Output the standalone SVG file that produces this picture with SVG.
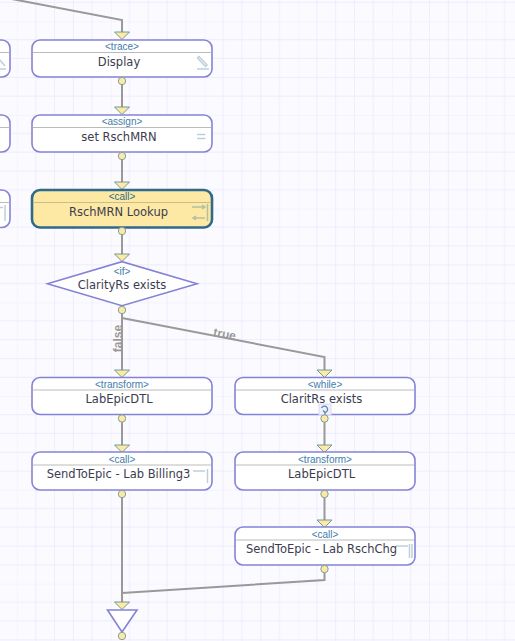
<svg xmlns="http://www.w3.org/2000/svg" width="515" height="641" viewBox="0 0 515 641">
<style>
.box{fill:#fff;stroke:#8583d6;stroke-width:1.6}
.sel{fill:#fde9a4;stroke:#2f6a8a;stroke-width:2.6}
.sep{stroke:#bbb;stroke-width:1}
.sep2{stroke:#ddd;stroke-width:2}
.st{font:10px "Liberation Sans",Arial,sans-serif;fill:#3f7cab;text-anchor:middle}
.nm{font:11.5px "DejaVu Sans",Verdana,sans-serif;fill:#3c3c50;text-anchor:middle}
.ln{fill:none;stroke:#999;stroke-width:2}
.lb{font:bold 12px "Liberation Sans",Arial,sans-serif;fill:#999;text-anchor:middle}
.dot{fill:#fde9a4;stroke:#7f9f9f;stroke-width:1}
.tri{fill:#fde9a4;stroke:#6f9a9a;stroke-width:1}
.ic{fill:none;stroke:#bccfdb;stroke-width:1.5}
.ic2{fill:none;stroke:#b5bfa0;stroke-width:1.5}
</style>
<defs>
<pattern id="grid" width="93.75" height="93.75" patternUnits="userSpaceOnUse" patternTransform="translate(17 21)">
<path d="M0 0V93.75M0 0H93.75" stroke="#f5f4ff" stroke-width="2.4" fill="none"/>
<path d="M18.75 0V93.75M37.5 0V93.75M56.25 0V93.75M75 0V93.75M0 18.75H93.75M0 37.5H93.75M0 56.25H93.75M0 75H93.75" stroke="#eeebfe" stroke-width="1" fill="none"/>
</pattern>
<path id="ar" class="tri" d="M-7.5 0H7.5L0 7.5Z"/>
</defs>
<rect width="515" height="641" fill="#fbfbff"/>
<rect width="515" height="641" fill="url(#grid)"/>
<g id="connectors">
<path class="ln" d="M-4 -4L122 20V33"/>
<path class="ln" d="M122 81V108"/>
<path class="ln" d="M122 156V183"/>
<path class="ln" d="M122 231V255"/>
<path class="ln" d="M122 310V371"/>
<path class="ln" d="M122 318L324.500 357V371"/>
<path class="ln" d="M122 419V445"/>
<path class="ln" d="M324.500 419V445"/>
<path class="ln" d="M324.500 494V520"/>
<path class="ln" d="M122 494V603"/>
<path class="ln" d="M324.500 569V580L122 593"/>
<text class="lb" transform="translate(122 338.500) rotate(-90)">false</text>
<text class="lb" transform="translate(224 338) rotate(10.600)">true</text>
<use href="#ar" x="122" y="32"/>
<use href="#ar" x="122" y="107"/>
<use href="#ar" x="122" y="182"/>
<use href="#ar" x="122" y="254"/>
<use href="#ar" x="122" y="370"/>
<use href="#ar" x="324.500" y="370"/>
<use href="#ar" x="122" y="445"/>
<use href="#ar" x="324.500" y="445"/>
<use href="#ar" x="324.500" y="520"/>
<use href="#ar" x="122" y="602"/>
</g>
<g id="left-1"><rect class="box" x="-30" y="40" width="40" height="37" rx="8"/><path class="sep" d="M0 52.500H9.500"/><path class="ic" d="M0 60L5 66M0 69H6"/></g>
<g id="left-2"><rect class="box" x="-30" y="115" width="40" height="37" rx="8"/><path class="sep" d="M0 127.500H9.500"/></g>
<g id="left-3"><rect class="box" x="-30" y="190" width="40" height="37.500" rx="8"/><path class="sep" d="M0 202.500H9.500"/><path class="ic" d="M0 207.500H3M5 205V221"/></g>
<g id="display"><rect class="box" x="32" y="40" width="180" height="37" rx="8"/><path class="sep" d="M32.800 52.500H211.200"/><text class="st" x="122" y="50">&lt;trace&gt;</text><text class="nm" x="119" y="66">Display</text><path class="ic" d="M197.500 58L205.500 66.500L207 65L199 56.500ZM197 69H209"/><circle class="dot" cx="122" cy="81" r="3.700"/></g>
<g id="set-rschmrn"><rect class="box" x="32" y="115" width="180" height="37" rx="8"/><path class="sep" d="M32.800 127.500H211.200"/><text class="st" x="122" y="125">&lt;assign&gt;</text><text class="nm" x="119" y="141">set RschMRN</text><path class="ic" d="M197 134.500H205.500M197 138.500H205.500"/><circle class="dot" cx="122" cy="156" r="3.700"/></g>
<g id="rschmrn-lookup"><rect class="sel" x="32" y="190" width="180" height="37.500" rx="8"/><path d="M33 202.500H211" stroke="#c8bd8c" stroke-width="1"/><text class="st" x="122" y="200" style="fill:#2f6a8a">&lt;call&gt;</text><text class="nm" x="118.500" y="216">RschMRN Lookup</text><path class="ic2" d="M192 207H205M202 205L205 207L202 209M205 218H193M196 216L193 218L196 220M207.500 204V221"/><circle class="dot" cx="122" cy="231" r="3.700"/></g>
<g id="if-clarityrs"><path class="box" d="M47.500 283.700L122 261.700L197 283.700L122 305.700Z"/><text class="st" x="122" y="275">&lt;if&gt;</text><text class="nm" x="122" y="288.500">ClarityRs exists</text><circle class="dot" cx="122" cy="310" r="3.700"/></g>
<g id="labepicdtl-1"><rect class="box" x="32" y="377.500" width="180" height="37" rx="8"/><path class="sep2" d="M33 390H211"/><text class="st" x="122" y="387.500">&lt;transform&gt;</text><text class="nm" x="119" y="403">LabEpicDTL</text><circle class="dot" cx="122" cy="418.500" r="3.700"/></g>
<g id="sendtoepic-billing"><rect class="box" x="32" y="452" width="180" height="38" rx="8"/><path class="sep2" d="M33 465H211"/><text class="st" x="122" y="462.500">&lt;call&gt;</text><path class="ic" d="M193 471H205M207.500 469V483"/><text class="nm" x="118.500" y="478">SendToEpic - Lab Billing3</text><circle class="dot" cx="122" cy="494" r="3.700"/></g>
<g id="while-claritrs"><rect class="box" x="235" y="377.500" width="180" height="37" rx="8"/><path class="sep2" d="M236 390H414"/><text class="st" x="325" y="387.500">&lt;while&gt;</text><text class="nm" x="321.500" y="403">ClaritRs exists</text><rect x="319" y="404" width="12" height="10.500" fill="#f0eeff" stroke="#dcd9f5" stroke-width="1"/><path d="M321.500 408A3.200 3.200 0 1 1 325 412.500M325 412.500L323 410.500M325 412.500V415" fill="none" stroke="#5a8aa8" stroke-width="1.300"/><circle class="dot" cx="324.500" cy="418.500" r="3.700"/></g>
<g id="labepicdtl-2"><rect class="box" x="235" y="452" width="180" height="38" rx="8"/><path class="sep2" d="M236 465H414"/><text class="st" x="325" y="462.500">&lt;transform&gt;</text><text class="nm" x="321.500" y="478">LabEpicDTL</text><circle class="dot" cx="324.500" cy="494" r="3.700"/></g>
<g id="sendtoepic-rschchg"><rect class="box" x="235" y="527" width="180" height="38" rx="8"/><path class="sep2" d="M236 540H414"/><text class="st" x="325" y="537.500">&lt;call&gt;</text><path class="ic" d="M396 546H408M409.500 544V558M412 544V558"/><text class="nm" x="321.500" y="553">SendToEpic - Lab RschChg</text><circle class="dot" cx="324.500" cy="569" r="3.700"/></g>
<g id="end-join"><path class="box" d="M107.500 610H137L122 632Z"/><circle class="dot" cx="122" cy="636" r="3.700"/></g>
</svg>
